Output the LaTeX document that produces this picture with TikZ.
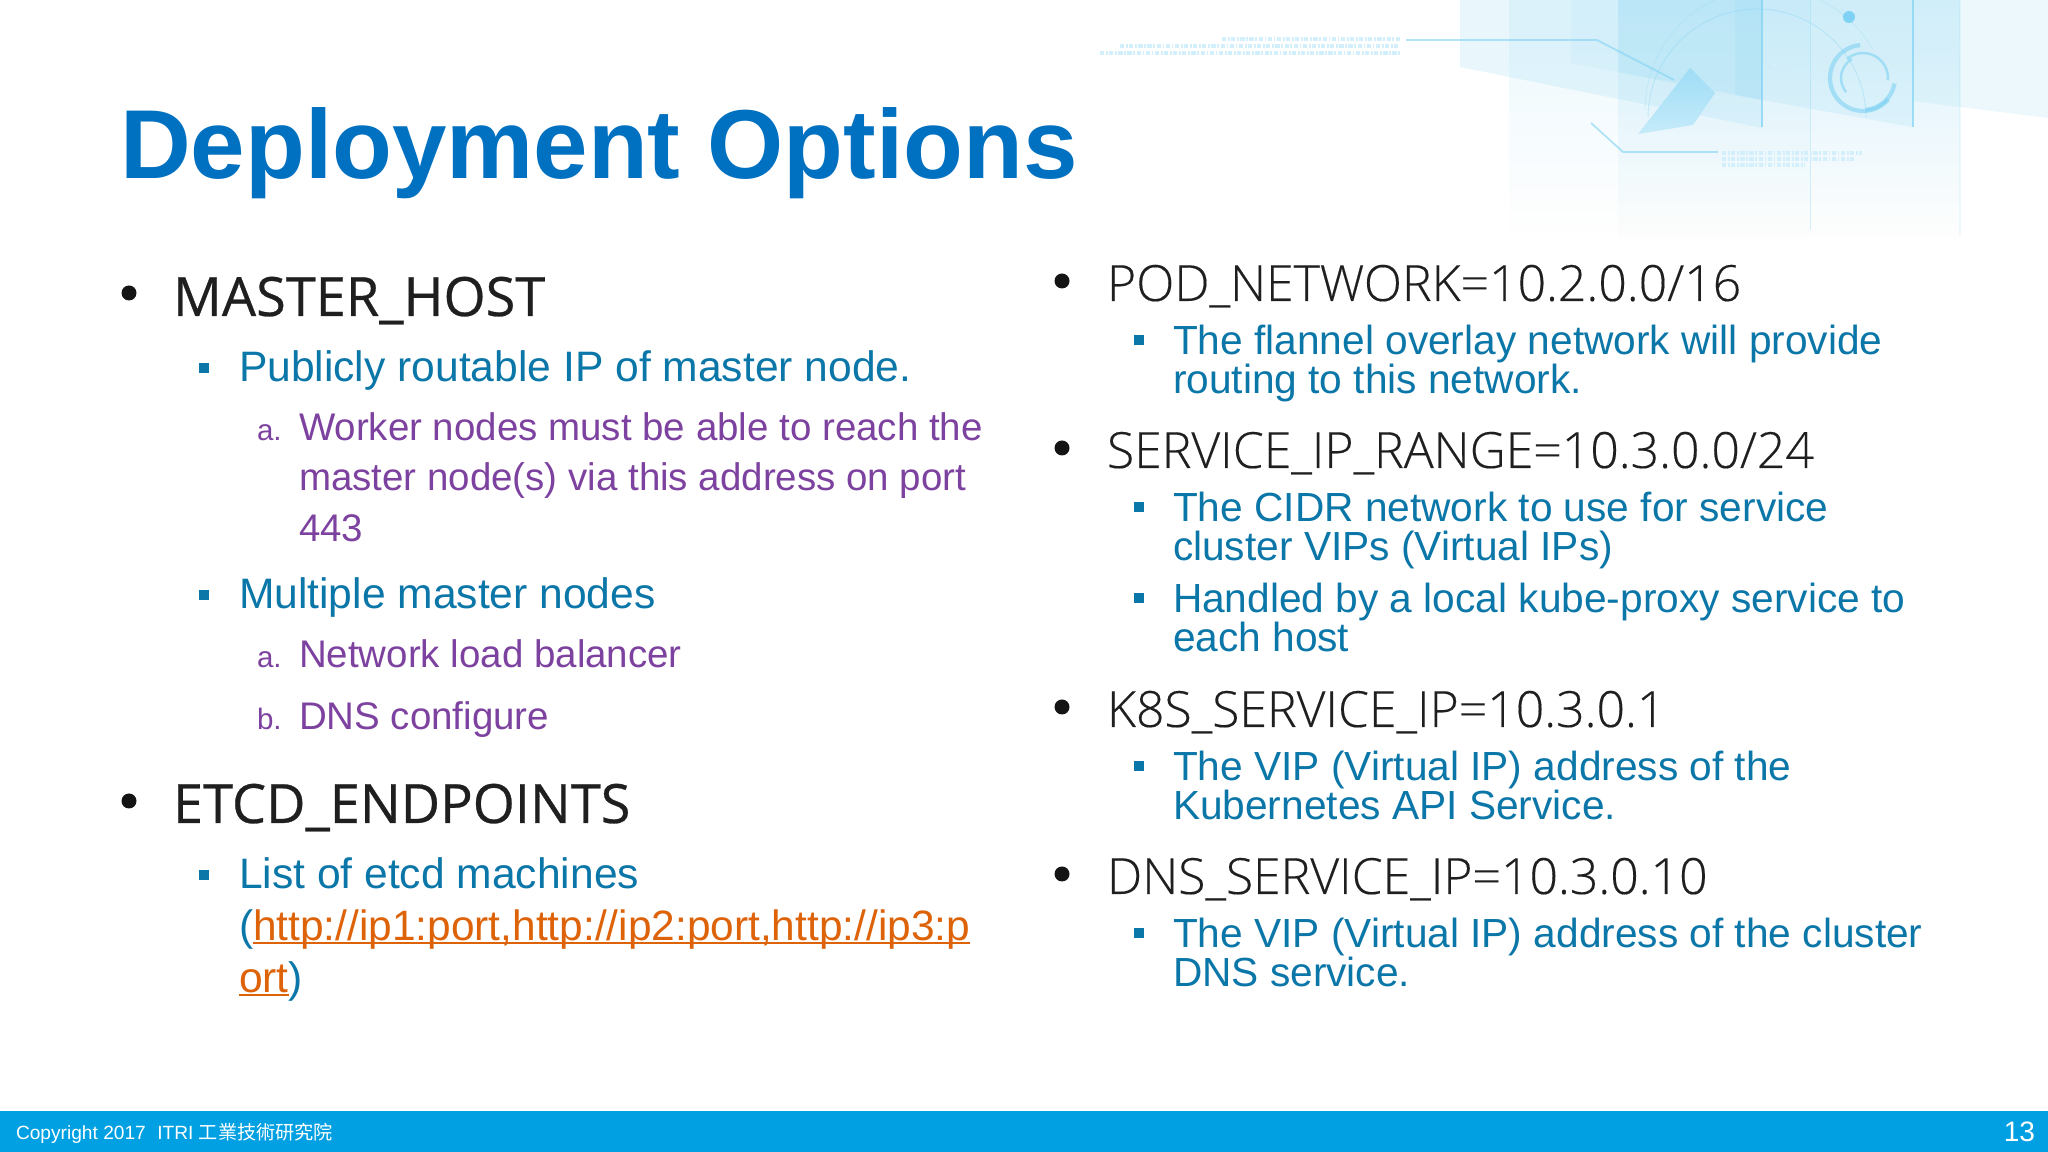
\documentclass[tikz,border=0pt]{standalone}
\usepackage{fontspec}
\setmainfont{Liberation Sans}
\newfontfamily\headfont[FakeBold=0.5]{Open Sans}
\newfontfamily\lightfont[FakeBold=0.25]{Open Sans Light}
\newfontfamily\cjkfont{Noto Sans CJK TC}
\usetikzlibrary{fadings}

\definecolor{titleblue}{HTML}{0070C0}
\definecolor{subblue}{HTML}{0B76A8}
\definecolor{itempurple}{HTML}{7D429F}
\definecolor{linkorange}{HTML}{DD6208}
\definecolor{barblue}{HTML}{00A0E2}
\definecolor{panelblue}{HTML}{9FDDF6}
\definecolor{lineblue}{HTML}{7FD2F3}

\newcommand{\linktext}[1]{\setbox0=\hbox{#1}\rlap{\rule[-0.9pt]{\wd0}{0.5pt}}\box0}

\tikzfading[name=panelfade, top color=transparent!0, bottom color=transparent!100]

\tikzset{
	txt/.style={anchor=base west, inner sep=0pt, outer sep=0pt},
	title/.style={txt, font=\fontsize{27.87}{30}\selectfont\bfseries, text=titleblue},
	head/.style={txt, font=\headfont\fontsize{15.4}{17}\selectfont, text=black!88},
	headlight/.style={txt, font=\lightfont\fontsize{14.2}{16}\selectfont, text=black!88},
	sub/.style={txt, font=\fontsize{12.12}{14}\selectfont, text=subblue},
	subr/.style={txt, font=\fontsize{11.57}{14}\selectfont, text=subblue},
	item/.style={txt, font=\fontsize{10.95}{13}\selectfont, text=itempurple},
	num/.style={txt, font=\fontsize{8.4}{10}\selectfont, text=itempurple},
	foot/.style={txt, font=\fontsize{5.45}{7}\selectfont, text=white},
	dotbullet/.style={circle, fill=black!92, minimum size=1.5mm, inner sep=0pt},
	squarebullet/.style={rectangle, fill=subblue, minimum size=1mm, inner sep=0pt},
	panel/.style={fill=panelblue, path fading=panelfade},
	deco/.style={draw=lineblue, line width=0.3pt},
	ringarc/.style={draw=lineblue, line width=1.2pt, draw opacity=0.6},
	fine/.style={draw=lineblue!35, line width=0.9pt, dash pattern=on 1.2pt off 0.5pt on 0.5pt off 0.4pt},
}

\begin{document}
\begin{tikzpicture}[x=0.1mm,y=-0.1mm]

	%page
	\useasboundingbox (0,0) rectangle (2048,1152);
	\fill[white] (0,0) rectangle (2048,1152);

	%fading columns
	\path[panel, opacity=0.2] (1509,0) rectangle (1960,235);
	\path[panel, opacity=0.2] (1618,0) rectangle (1960,240);
	\path[panel, opacity=0.1] (1618,0) rectangle (1810,240);

	%slanted panels
	\path[fill=panelblue, opacity=0.22] (1460,0) -- (1762,0) -- (1762,128) -- (1460,67) -- cycle;
	\path[fill=panelblue, opacity=0.22] (1762,0) -- (1912,0) -- (1912,127) -- (1762,100) -- cycle;
	\path[fill=panelblue, opacity=0.18] (1912,0) -- (2048,0) -- (2048,118) -- (1912,101) -- cycle;
	\path[fill=panelblue, opacity=0.12] (1571,0) -- (1762,0) -- (1762,100) -- (1571,63) -- cycle;
	\path[fill=panelblue, opacity=0.2] (1618,0) -- (1762,0) -- (1762,100) -- (1618,72) -- cycle;
	\path[fill=panelblue, opacity=0.25] (1735,0) -- (1762,0) -- (1762,100) -- (1735,95) -- cycle;
	\path[top color=panelblue, bottom color=panelblue!60] (1690,68) -- (1715,93) -- (1693,125) -- (1638,134) -- cycle;

	\draw[deco, line width=0.8pt, draw opacity=0.7] (1762,0) -- (1762,127);
	\draw[deco, line width=0.8pt, draw opacity=0.7] (1913,0) -- (1913,127);
	\draw[deco, draw opacity=0.3] (1810,0) -- (1810,230);
	\draw[deco, line width=0.6pt, draw opacity=0.12] (1960,0) -- (1960,235);
	\draw[deco, draw opacity=0.35, line width=0.25pt] (1648,118) arc (180:360:109);
	\draw[deco, draw opacity=0.2, line width=0.25pt] (1645,110) arc (180:330:122);

	%ring
	\draw[ringarc] (1863,78) ++(-95:33) arc (-95:-320:33);
	\draw[ringarc] (1863,78) ++(10:32) arc (10:85:32);
	\draw[ringarc, line width=0.7pt] (1863,78) ++(-120:22) arc (-120:-220:22);
	\draw[ringarc, line width=0.7pt] (1863,78) ++(-130:25) arc (-130:5:25);
	\fill[lineblue] (1849,17) circle (6);

	%callouts
	\draw[deco, line width=0.5pt, draw opacity=0.6] (1406,40) -- (1597,40) -- (1674,80);
	\draw[deco, line width=0.5pt, draw opacity=0.6] (1591,123) -- (1623,152) -- (1718,152);
	\draw[fine] (1222,39) -- (1400,39);
	\draw[fine] (1120,46) -- (1400,46);
	\draw[fine] (1100,53) -- (1400,53);
	\draw[fine] (1722,153) -- (1862,153);
	\draw[fine] (1722,159) -- (1855,159);
	\draw[fine] (1722,165) -- (1805,165);
	\draw[fine] (1770,72) -- (1825,80);
	\draw[fine] (1772,65) -- (1793,68);

	%title
	\node[title] (ttl) at (120,179) {Deployment Options};

	%left column
	\node[dotbullet] (lb1) at (129,293) {};
	\node[head] (master) at (173,316) {MASTER\_HOST};
	\node[squarebullet] (ls1) at (204,368) {};
	\node[sub] (public) at (239,382) {Publicly routable IP of master node.};
	\node[num] (na) at (257,441) {a.};
	\node[item] (worker) at (299,441) {Worker nodes must be able to reach the};
	\node[item] (viaaddr) at (299,491) {master node(s) via this address on port};
	\node[item] (port) at (299,542) {443};
	\node[squarebullet] (ls2) at (204,595) {};
	\node[sub] (multi) at (239,609) {Multiple master nodes};
	\node[num] (nb) at (257,668) {a.};
	\node[item] (lb) at (299,668) {Network load balancer};
	\node[num] (nc) at (257,730) {b.};
	\node[item] (dnsconf) at (299,730) {DNS configure};
	\node[dotbullet] (lb2) at (129,801) {};
	\node[head] (etcd) at (173,823) {ETCD\_ENDPOINTS};
	\node[squarebullet] (ls3) at (204,875) {};
	\node[sub] (list) at (239,889) {List of etcd machines};
	\node[sub, font=\fontsize{12.07}{14}\selectfont] (urls) at (239,941) {(\textcolor{linkorange}{\linktext{http://ip1:port,http://ip2:port,http://ip3:p}}};
	\node[sub] (urlend) at (239,993) {\textcolor{linkorange}{\linktext{ort}})};

	%right column
	\node[dotbullet] (rb1) at (1062,281) {};
	\node[headlight] (pod) at (1107,301) {POD\_NETWORK=10.2.0.0/16};
	\node[squarebullet] (rs1) at (1139,340) {};
	\node[subr] (flannel) at (1173,355) {The flannel overlay network will provide};
	\node[subr] (routing) at (1173,394) {routing to this network.};
	\node[dotbullet] (rb2) at (1062,448) {};
	\node[headlight] (range) at (1107,468) {SERVICE\_IP\_RANGE=10.3.0.0/24};
	\node[squarebullet] (rs2) at (1139,507) {};
	\node[subr] (cidr) at (1173,522) {The CIDR network to use for service};
	\node[subr] (vips) at (1173,561) {cluster VIPs (Virtual IPs)};
	\node[squarebullet] (rs3) at (1139,598) {};
	\node[subr] (handled) at (1173,613) {Handled by a local kube-proxy service to};
	\node[subr] (each) at (1173,652) {each host};
	\node[dotbullet] (rb3) at (1062,707) {};
	\node[headlight] (k8s) at (1107,727) {K8S\_SERVICE\_IP=10.3.0.1};
	\node[squarebullet] (rs4) at (1139,766) {};
	\node[subr] (vip) at (1173,781) {The VIP (Virtual IP) address of the};
	\node[subr] (kube) at (1173,820) {Kubernetes API Service.};
	\node[dotbullet] (rb4) at (1062,874) {};
	\node[headlight] (dns) at (1107,894) {DNS\_SERVICE\_IP=10.3.0.10};
	\node[squarebullet] (rs5) at (1139,933) {};
	\node[subr] (vipdns) at (1173,948) {The VIP (Virtual IP) address of the cluster};
	\node[subr] (dnssvc) at (1173,987) {DNS service.};

	%footer
	\fill[barblue] (0,1111) rectangle (2048,1152);
	\node[foot] (copy) at (16,1139) {Copyright 2017\hspace{0.6em}ITRI {\cjkfont 工業技術研究院}};
	\node[foot, font=\fontsize{8}{9}\selectfont, anchor=base east] (page) at (2035,1141) {13};

\end{tikzpicture}
\end{document}
